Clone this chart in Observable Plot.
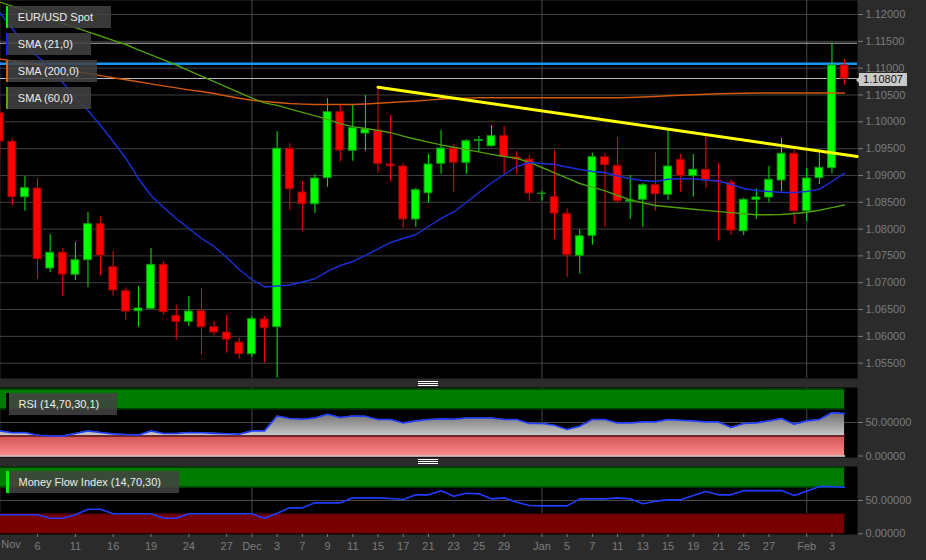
<!DOCTYPE html>
<html><head><meta charset="utf-8">
<script src="https://cdn.jsdelivr.net/npm/d3@7"></script>
<script src="https://cdn.jsdelivr.net/npm/@observablehq/plot@0.6"></script>
<style>
html,body{margin:0;padding:0;background:#2b2b2b;}
#wrap{position:relative;width:926px;height:560px;overflow:hidden;background:#2b2b2b;font-family:"Liberation Sans",Arial,sans-serif;}
#wrap svg{position:absolute;left:0;}
.leg{position:absolute;height:22px;line-height:22px;background:rgba(66,66,66,0.86);color:#ececec;font-size:11px;padding:0 18px 0 9.5px;white-space:nowrap;}
.leg i{position:absolute;top:0;height:100%;}
.handle{position:absolute;width:20px;height:6px;background:repeating-linear-gradient(to bottom,#fff 0 1px,transparent 1px 2px);}
.tag{position:absolute;left:859px;width:48px;height:13px;line-height:13px;background:#c9c9c9;color:#111;font-size:11px;text-align:center;}
.tag::before{content:"";position:absolute;left:-3px;top:3.5px;border-top:3px solid transparent;border-bottom:3px solid transparent;border-right:3px solid #c9c9c9;}
</style>
</head><body>
<div id="wrap"></div>
<script>
// ---- data ----
const days = [
 "2015-11-03","2015-11-04","2015-11-05","2015-11-06","2015-11-09","2015-11-10","2015-11-11","2015-11-12","2015-11-13",
 "2015-11-16","2015-11-17","2015-11-18","2015-11-19","2015-11-20","2015-11-23","2015-11-24","2015-11-25","2015-11-26","2015-11-27",
 "2015-11-30","2015-12-01","2015-12-02","2015-12-03","2015-12-04","2015-12-07","2015-12-08","2015-12-09","2015-12-10","2015-12-11",
 "2015-12-14","2015-12-15","2015-12-16","2015-12-17","2015-12-18","2015-12-21","2015-12-22","2015-12-23","2015-12-24","2015-12-25",
 "2015-12-28","2015-12-29","2015-12-30","2015-12-31","2016-01-01","2016-01-04","2016-01-05","2016-01-06","2016-01-07","2016-01-08",
 "2016-01-11","2016-01-12","2016-01-13","2016-01-14","2016-01-15","2016-01-18","2016-01-19","2016-01-20","2016-01-21","2016-01-22",
 "2016-01-25","2016-01-26","2016-01-27","2016-01-28","2016-01-29","2016-02-01","2016-02-02","2016-02-03","2016-02-04"];
const open = [1.10160,1.09627,1.08594,1.08757,1.07265,1.07558,1.07148,1.07420,1.08091,1.07289,1.06842,1.06469,1.06514,1.07334,1.06383,1.06271,1.06469,1.06171,1.06072,1.05885,
 1.05667,1.06314,1.06171,1.09497,1.08682,1.08464,1.08949,1.10179,1.09459,1.09782,1.09838,1.09204,1.09167,1.08179,1.08669,1.09217,1.09502,1.09236,1.09640,1.09545,
 1.09732,1.09334,1.09297,1.08655,1.08594,1.08285,1.07502,1.07875,1.09340,1.09180,1.08510,1.08546,1.08818,1.08639,1.09291,1.08986,1.09105,1.08900,1.08863,1.07960,
 1.08546,1.08589,1.08906,1.09403,1.08333,1.08949,1.09135,1.11050];
const high = [1.10300,1.09683,1.08980,1.08943,1.07899,1.07638,1.07750,1.08309,1.08235,1.07582,1.06905,1.06930,1.07638,1.07390,1.06575,1.06743,1.06892,1.06277,1.06389,1.05966,
 1.06365,1.06370,1.09819,1.09590,1.08887,1.09012,1.10434,1.10317,1.10304,1.10490,1.10645,1.10117,1.09217,1.08762,1.09390,1.09838,1.09577,1.09670,1.09726,1.09931,
 1.09912,1.09446,1.09372,1.08700,1.09465,1.08378,1.07987,1.09415,1.09409,1.09707,1.08999,1.08850,1.09428,1.09851,1.09390,1.09390,1.09739,1.09217,1.08919,1.08576,
 1.08751,1.09167,1.09689,1.09477,1.09130,1.09415,1.11454,1.11161];
const low = [1.09372,1.08440,1.08333,1.07060,1.07191,1.06743,1.07041,1.06911,1.07135,1.06749,1.06296,1.06171,1.06500,1.06389,1.05928,1.06184,1.05662,1.06010,1.05686,1.05574,
 1.05612,1.05500,1.05220,1.08352,1.07960,1.08290,1.08781,1.09247,1.09265,1.09452,1.09042,1.08874,1.08016,1.08035,1.08482,1.09023,1.08688,1.09023,1.09433,1.09526,
 1.09018,1.09023,1.08520,1.08520,1.07806,1.07103,1.07159,1.07700,1.08035,1.08471,1.08179,1.08035,1.08333,1.08538,1.08688,1.08594,1.08762,1.07774,1.07880,1.07880,
 1.08179,1.08496,1.08701,1.08085,1.08141,1.08831,1.09031,1.10677];
const close = [1.09633,1.08594,1.08762,1.07438,1.07558,1.07153,1.07420,1.08091,1.07507,1.06855,1.06463,1.06519,1.07334,1.06450,1.06271,1.06463,1.06171,1.06072,1.05941,1.05667,
 1.06320,1.06152,1.09497,1.08743,1.08464,1.08943,1.10179,1.09465,1.09881,1.09856,1.09217,1.09172,1.08179,1.08725,1.09204,1.09502,1.09236,1.09638,1.09660,1.09732,
 1.09347,1.09297,1.08663,1.08660,1.08290,1.07513,1.07867,1.09340,1.09191,1.08520,1.08535,1.08818,1.08650,1.09167,1.08993,1.09105,1.08919,1.08880,1.07973,1.08546,
 1.08589,1.08919,1.09403,1.08333,1.08943,1.09142,1.11050,1.10807];
const sma21 = [1.12038,1.11739,1.11441,1.11217,1.11012,1.10733,1.10453,1.10211,1.09931,1.09633,1.09316,1.08943,1.08626,1.08403,1.08198,1.08011,1.07825,1.07676,1.07471,1.07247,
 1.07060,1.06921,1.06939,1.06958,1.07014,1.07074,1.07210,1.07321,1.07396,1.07508,1.07629,1.07750,1.07825,1.07899,1.08048,1.08198,1.08319,1.08496,1.08682,1.08859,
 1.09018,1.09167,1.09241,1.09223,1.09204,1.09157,1.09111,1.09074,1.09055,1.08990,1.08939,1.08906,1.08887,1.08928,1.08938,1.08938,1.08915,1.08897,1.08831,1.08757,
 1.08719,1.08701,1.08682,1.08682,1.08701,1.08744,1.08887,1.09042];
const sma200 = [1.11171,1.11133,1.11096,1.11057,1.11018,1.10979,1.10939,1.10900,1.10861,1.10822,1.10783,1.10746,1.10706,1.10669,1.10632,1.10596,1.10565,1.10528,1.10481,1.10438,
 1.10401,1.10378,1.10360,1.10341,1.10330,1.10322,1.10322,1.10322,1.10322,1.10332,1.10347,1.10360,1.10375,1.10388,1.10404,1.10425,1.10434,1.10442,1.10447,1.10447,
 1.10447,1.10447,1.10447,1.10447,1.10447,1.10447,1.10447,1.10447,1.10447,1.10447,1.10453,1.10462,1.10472,1.10485,1.10496,1.10505,1.10514,1.10524,1.10528,1.10531,
 1.10537,1.10537,1.10537,1.10537,1.10537,1.10537,1.10537,1.10537];
const sma60 = [1.12233,1.12155,1.12077,1.11996,1.11916,1.11836,1.11758,1.11678,1.11599,1.11519,1.11441,1.11342,1.11249,1.11156,1.11059,1.10956,1.10852,1.10749,1.10647,1.10544,
 1.10442,1.10354,1.10306,1.10240,1.10175,1.10110,1.10045,1.09965,1.09911,1.09875,1.09840,1.09797,1.09733,1.09674,1.09620,1.09569,1.09525,1.09482,1.09439,1.09392,
 1.09353,1.09321,1.09243,1.09148,1.09049,1.08951,1.08850,1.08781,1.08712,1.08626,1.08544,1.08490,1.08440,1.08416,1.08393,1.08369,1.08348,1.08326,1.08306,1.08285,
 1.08266,1.08268,1.08272,1.08291,1.08315,1.08352,1.08399,1.08449];
const rsi = [37.5,34.6,35.1,31.0,30.0,29.7,33.6,37.5,35.0,33.0,32.0,31.2,37.5,33.6,33.6,35.0,34.8,33.8,33.2,32.6,
 37.5,37.5,59.8,55.9,54.9,56.8,62.3,57.4,59.8,59.3,54.4,54.4,49.4,52.4,54.4,55.4,54.9,56.8,56.8,56.8,
 54.4,54.4,48.5,48.5,46.0,39.6,44.5,54.4,54.4,49.4,49.4,50.9,50.9,54.4,53.4,52.4,50.9,50.9,42.6,48.5,
 49.4,52.4,55.9,47.5,52.4,54.4,64.8,63.4];
const mfi = [28.5,28.5,28.5,28.5,23.4,23.4,28.5,36.9,36.9,30.0,30.0,30.0,30.0,23.4,23.4,30.0,30.0,30.0,30.0,30.0,
 30.0,23.4,31.0,39.0,39.0,46.5,46.5,46.5,54.0,54.0,54.0,53.0,51.5,58.5,58.5,64.5,56.4,60.9,60.0,52.5,
 54.0,47.4,42.4,41.9,41.9,41.9,52.5,52.5,52.5,54.0,52.5,45.0,49.0,51.0,51.0,57.4,63.4,58.5,58.5,64.9,
 64.9,64.9,64.9,57.4,64.0,70.9,70.9,70.0];
const tickDays = ["2015-11-03","2015-11-06","2015-11-11","2015-11-16","2015-11-19","2015-11-24","2015-11-27","2015-12-01","2015-12-03","2015-12-07",
 "2015-12-09","2015-12-11","2015-12-15","2015-12-17","2015-12-21","2015-12-23","2015-12-25","2015-12-29","2016-01-01","2016-01-05",
 "2016-01-07","2016-01-11","2016-01-13","2016-01-15","2016-01-19","2016-01-21","2016-01-25","2016-01-27","2016-02-01","2016-02-03"];
const tickLabels = ["Nov","6","11","16","19","24","27","Dec","3","7","9","11","15","17","21","23","25","29","Jan","5","7","11","13","15","19","21","25","27","Feb","3"];
const monthDays = ["2015-12-01","2016-01-01","2016-02-01"];
const priceTicks = [1.055,1.060,1.065,1.070,1.075,1.080,1.085,1.090,1.095,1.100,1.105,1.110,1.115,1.120];
const oscTicks = [0, 50];
const trendDayNo = [31, 69];          // trading-day number (Nov 2, 2015 = 0)
const trendPrice = [1.10645, 1.09353];
const periodHigh = 1.11465;
const blueLevel = 1.11080;
const lastPrice = 1.10807;
const rsiBands = [30, 70];
const mfiBands = [30, 70];
const legendMain = ["EUR/USD Spot","SMA (21,0)","SMA (200,0)","SMA (60,0)"];
const legendRSI = "RSI (14,70,30,1)";
const legendMFI = "Money Flow Index (14,70,30)";

// ---- build ----
const dayNo = d => days.indexOf(d) + 1;
const candles = days.map((d, k) => ({n: k + 1, day: d, o: open[k], h: high[k], l: low[k], c: close[k],
  s21: sma21[k], s200: sma200[k], s60: sma60[k], rsi: rsi[k], mfi: mfi[k]}));
const trend = trendDayNo.map((n, k) => ({n, p: trendPrice[k]}));
const monthNo = monthDays.map(dayNo);
const tickNo = tickDays.map(dayNo);
const xDomain = [1.0627, 69.024];
const up = d => d.c >= d.o;
const font = "Liberation Sans, Arial, sans-serif";
const baseStyle = {background: "transparent", color: "#7c7c7c", fontFamily: font, fontSize: "11px", overflow: "visible"};
const wrap = document.getElementById("wrap");

const main = Plot.plot({
  width: 926, height: 379, marginTop: 0, marginBottom: 1, marginLeft: 0, marginRight: 69,
  style: baseStyle,
  x: {domain: xDomain, axis: null},
  y: {domain: [1.052144, 1.122614], axis: null},
  color: {type: "identity"},
  marks: [
    Plot.frame({fill: "#000"}),
    Plot.ruleY(priceTicks, {stroke: "#404040"}),
    Plot.ruleX(monthNo, {stroke: "#4a4a4a"}),
    Plot.ruleY([periodHigh], {stroke: "#b8b8b8"}),
    Plot.ruleY([lastPrice], {stroke: "#b8b8b8"}),
    Plot.ruleY([blueLevel], {stroke: "#1a95f2", strokeWidth: 2.5}),
    Plot.ruleX(candles, {x: "n", y1: "l", y2: "h", stroke: d => up(d) ? "#00f000" : "#ff0000"}),
    Plot.rect(candles, {x1: d => d.n - 0.5, x2: d => d.n + 0.5, insetLeft: 2.4, insetRight: 2.4, y1: "o", y2: "c",
      fill: d => up(d) ? "#00ff00" : "#ff0000", stroke: d => up(d) ? "#0a9a0a" : "#a00000", strokeWidth: 1}),
    Plot.line(candles, {x: "n", y: "s200", stroke: "#d4580c", strokeWidth: 1.4}),
    Plot.line(candles, {x: "n", y: "s60", stroke: "#4f9e0a", strokeWidth: 1.4}),
    Plot.line(candles, {x: "n", y: "s21", stroke: "#1a30d8", strokeWidth: 1.4}),
    Plot.line(trend, {x: "n", y: "p", stroke: "#ffff00", strokeWidth: 3}),
    Plot.axisY({anchor: "right", ticks: priceTicks, tickFormat: d3.format(".5f"), tickSize: 5, tickPadding: 3, label: null})
  ]
});
main.style.top = "0px";
wrap.appendChild(main);

function osc(key, bands, domain, height, marginBottom, top, lowFill, withGray) {
  const marks = [
    Plot.frame({fill: "#000"}),
    Plot.ruleX(monthNo, {stroke: "#4a4a4a"}),
    Plot.ruleY([50], {stroke: "#4a4a4a"}),
    Plot.areaY(candles, {x: "n", y1: () => bands[1], y2: () => 100, fill: "#007b00"}),
    Plot.line(candles, {x: "n", y: () => bands[1], stroke: "#003c00"}),
    Plot.line(candles, {x: "n", y: () => 100, stroke: "#003c00"}),
    Plot.areaY(candles, {x: "n", y1: () => 0, y2: () => bands[0], fill: lowFill})
  ];
  if (withGray) {
    marks.push(Plot.areaY(candles, {x: "n", y1: () => bands[0], y2: d => Math.max(d[key], bands[0]), fill: "url(#rsiGray)"}));
    marks.push(Plot.line(candles, {x: "n", y: () => bands[0], stroke: "#5a1414"}));
    marks.push(Plot.line(candles, {x: "n", y: () => 0, stroke: "#f4dede", strokeWidth: 1.5}));
  } else {
    marks.push(Plot.line(candles, {x: "n", y: () => bands[0], stroke: "#3c0000"}));
  }
  marks.push(Plot.line(candles, {x: "n", y: key, stroke: "#1f3cff", strokeWidth: 1.6}));
  marks.push(Plot.axisY({anchor: "right", ticks: oscTicks, tickFormat: d3.format(".5f"), tickSize: 5, tickPadding: 3, label: null}));
  return {marks, height, marginBottom, top, domain};
}

const r = osc("rsi", rsiBands, [-2.24, 102.24], 70, 0, 387, "url(#rsiRed)", true);
const rsiPlot = Plot.plot({
  width: 926, height: r.height, marginTop: 0, marginBottom: r.marginBottom, marginLeft: 0, marginRight: 69,
  style: baseStyle, x: {domain: xDomain, axis: null}, y: {domain: r.domain, axis: null}, marks: r.marks
});
const defs = d3.select(rsiPlot).insert("defs", ":first-child");
const g1 = defs.append("linearGradient").attr("id", "rsiGray").attr("x1", 0).attr("y1", 0).attr("x2", 0).attr("y2", 1);
g1.append("stop").attr("offset", "0%").attr("stop-color", "#6c6c6c");
g1.append("stop").attr("offset", "100%").attr("stop-color", "#c8c8c8");
const g2 = defs.append("linearGradient").attr("id", "rsiRed").attr("x1", 0).attr("y1", 0).attr("x2", 0).attr("y2", 1);
g2.append("stop").attr("offset", "0%").attr("stop-color", "#d35252");
g2.append("stop").attr("offset", "100%").attr("stop-color", "#fa8a8a");
rsiPlot.style.top = r.top + "px";
wrap.appendChild(rsiPlot);

const m = osc("mfi", mfiBands, [-1.05, 101.05], 94, 26, 466, "#780000", false);
const labelOf = new Map(tickNo.map((n, k) => [n, tickLabels[k]]));
m.marks.push(Plot.axisX({ticks: tickNo.slice(1), tickFormat: d => labelOf.get(d), tickSize: 3, tickPadding: 5, label: null}));
m.marks.push(Plot.text([tickLabels[0]], {x: () => tickNo[0], text: d => d, frameAnchor: "bottom", dy: 13.5, dx: 1.5, textAnchor: "start", fill: "#7c7c7c"}));
const mfiPlot = Plot.plot({
  width: 926, height: m.height, marginTop: 0, marginBottom: m.marginBottom, marginLeft: 0, marginRight: 69,
  style: baseStyle, x: {domain: xDomain, axis: null}, y: {domain: m.domain, axis: null}, marks: m.marks
});
mfiPlot.style.top = m.top + "px";
wrap.appendChild(mfiPlot);

// legends
const legColors = ["#00ee00", "#0a2cf0", "#e0600a", "#55a50a"];
legendMain.forEach((t, k) => {
  const el = document.createElement("div");
  el.className = "leg";
  el.style.left = "8.3px"; el.style.top = (6 + 27 * k) + "px";
  el.innerHTML = `<i style="left:-2.3px;width:2.3px;background:${legColors[k]}"></i>`;
  el.appendChild(document.createTextNode(t));
  wrap.appendChild(el);
});
[[legendRSI, 393, "#000"], [legendMFI, 471, "#00ee00"]].forEach(([t, top, c]) => {
  const el = document.createElement("div");
  el.className = "leg";
  el.style.left = "9px"; el.style.top = top + "px";
  el.innerHTML = `<i style="left:-3px;width:3px;background:${c}"></i>`;
  el.appendChild(document.createTextNode(t));
  wrap.appendChild(el);
});
// handles
[381, 459].forEach(t => {
  const h = document.createElement("div");
  h.className = "handle"; h.style.left = "418px"; h.style.top = t + "px";
  wrap.appendChild(h);
});
// last price tag
const yLast = main.scale("y").apply(lastPrice);
const tag = document.createElement("div");
tag.className = "tag";
tag.style.top = (yLast - 5) + "px";
tag.textContent = d3.format(".5f")(lastPrice);
wrap.appendChild(tag);
</script>
</body></html>
